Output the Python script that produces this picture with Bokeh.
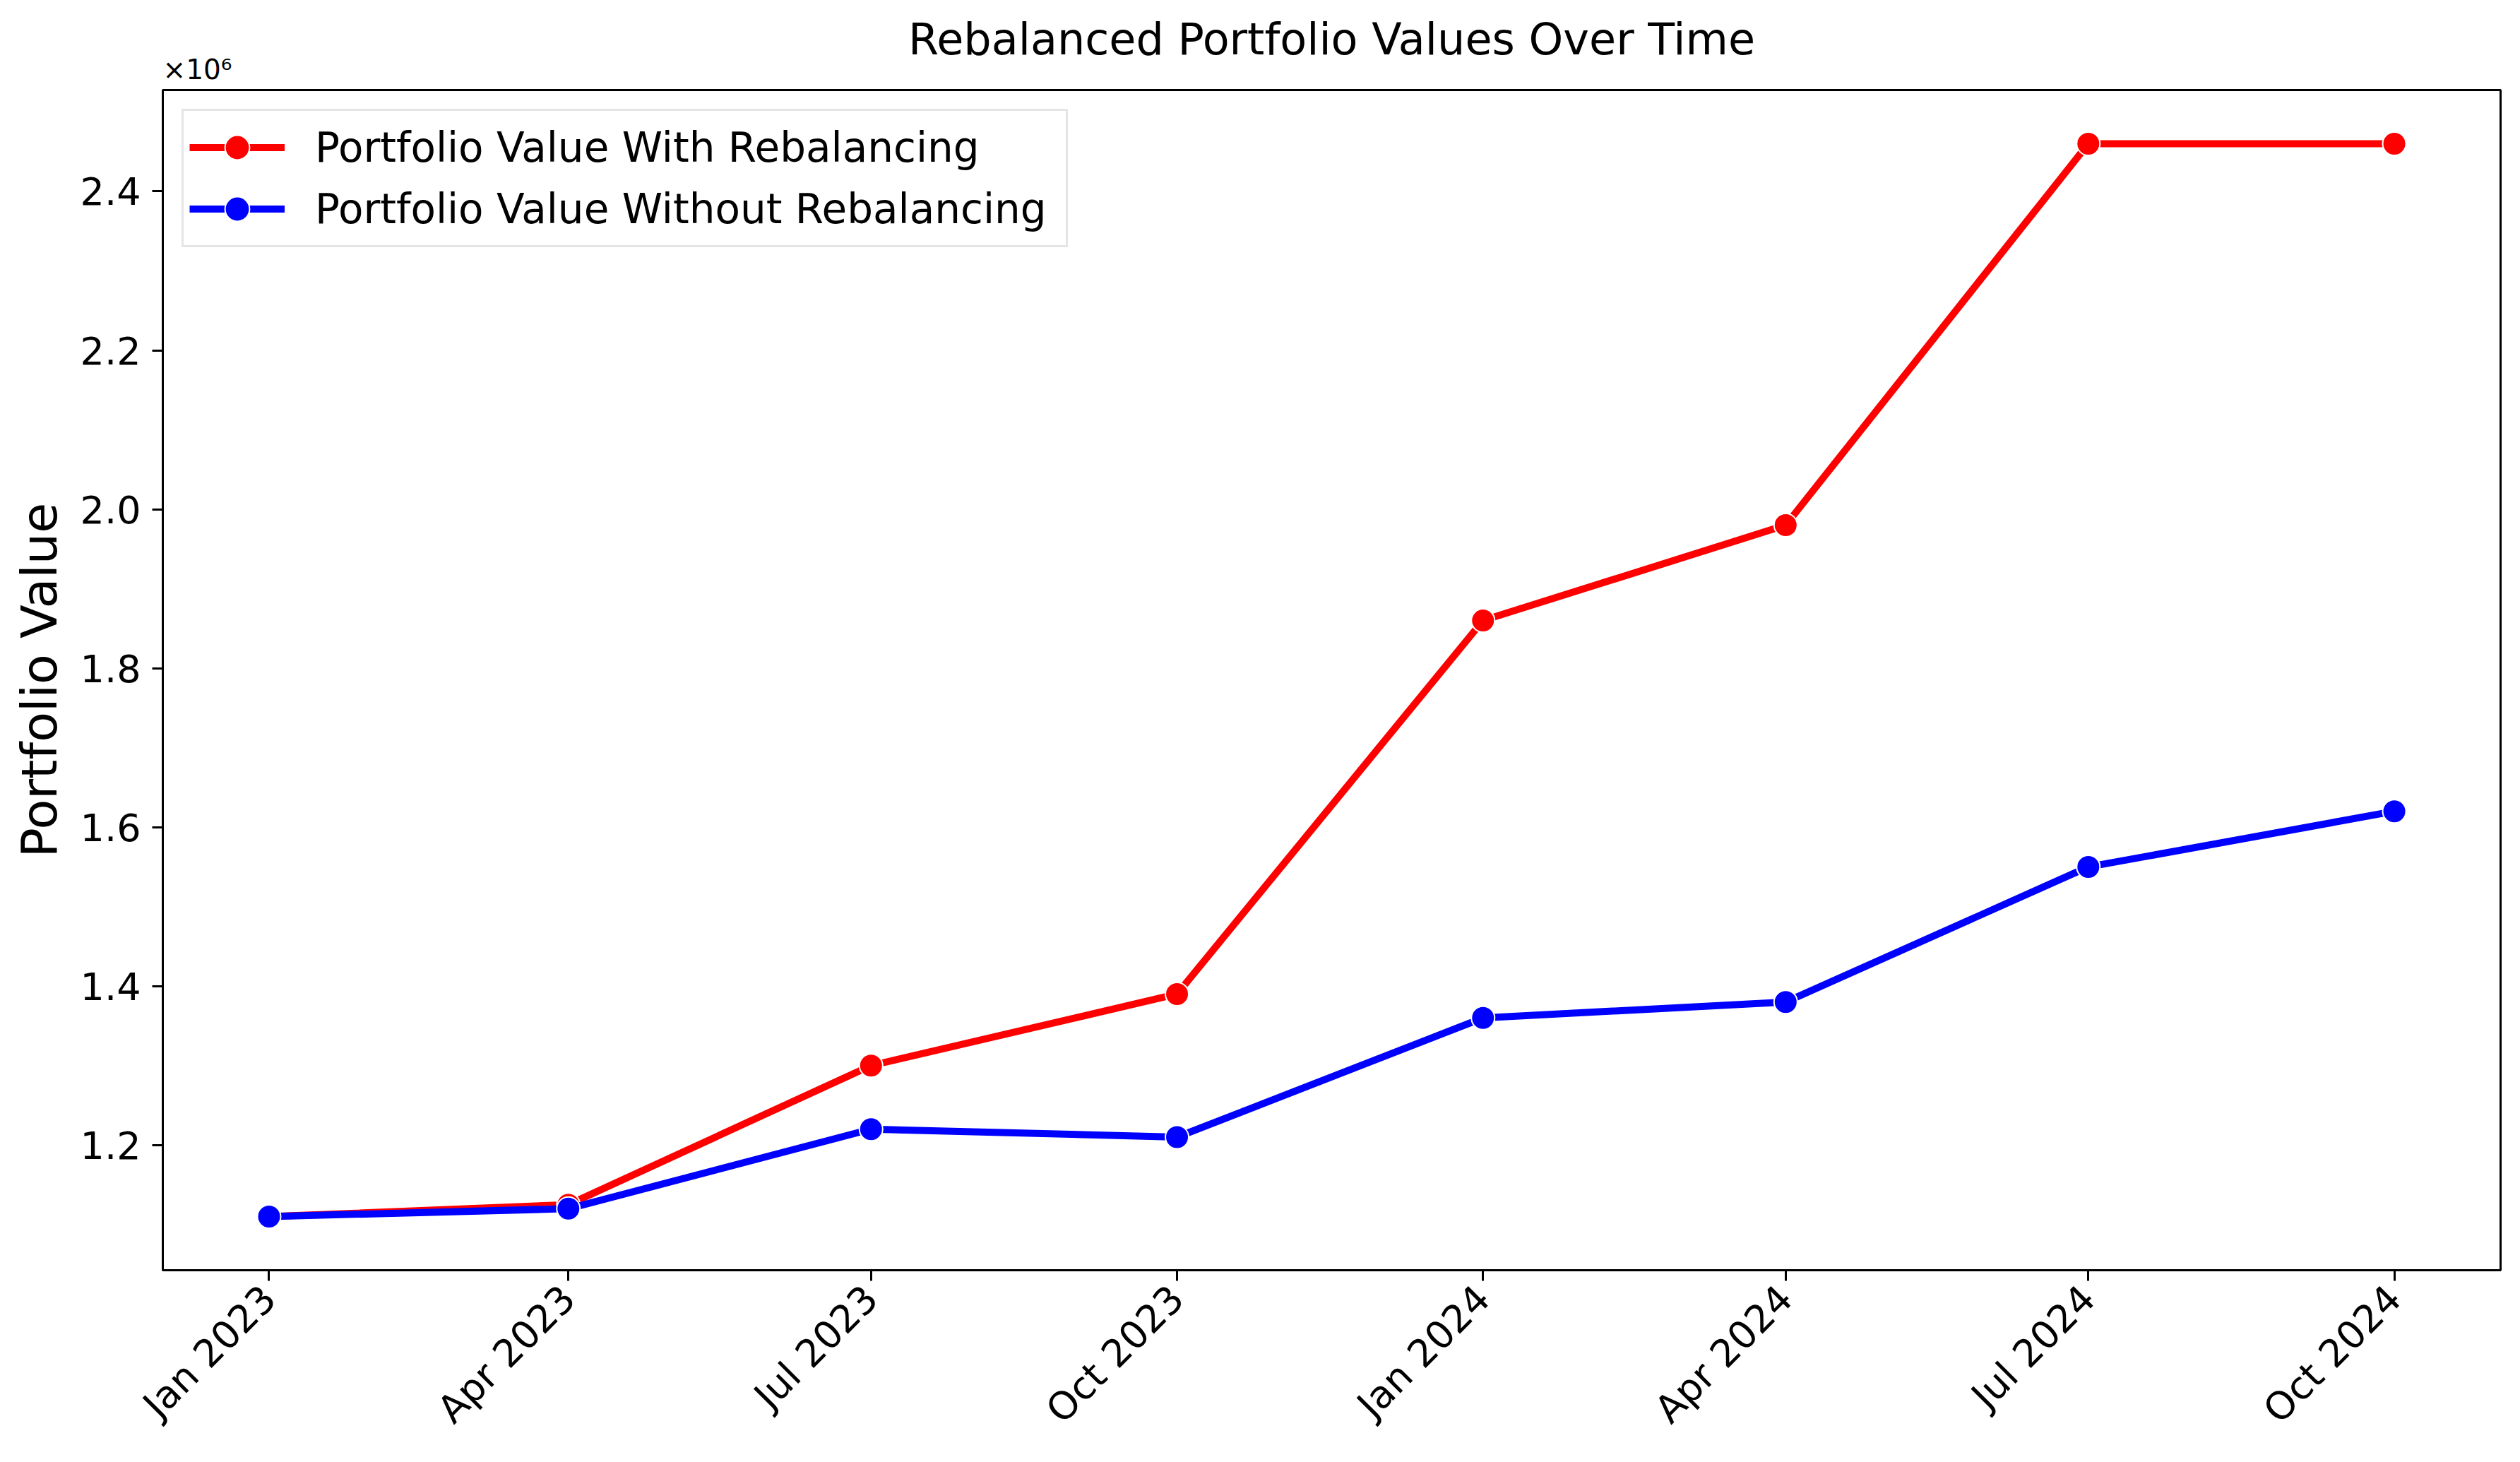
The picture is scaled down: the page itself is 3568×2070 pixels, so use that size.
import math
from datetime import datetime
from bokeh.plotting import figure
from bokeh.models import Range1d, FixedTicker, DatetimeTickFormatter, CustomJSTickFormatter, Title
from bokeh.embed import file_html
from bokeh.resources import INLINE

# ---- data ----
dates = ["2023-01-01", "2023-04-01", "2023-07-01", "2023-10-01",
         "2024-01-01", "2024-04-01", "2024-07-01", "2024-10-01"]
with_rebalancing = [1110000, 1125000, 1300000, 1390000, 1860000, 1980000, 2460000, 2460000]
without_rebalancing = [1110000, 1120000, 1220000, 1210000, 1360000, 1380000, 1550000, 1620000]
y_ticks = [1200000, 1400000, 1600000, 1800000, 2000000, 2200000, 2400000]
series_names = ["Portfolio Value With Rebalancing", "Portfolio Value Without Rebalancing"]
series_colors = ["red", "blue"]
offset_text = "×10⁶"

FONT = "DejaVu Sans"
EPOCH = datetime(1970, 1, 1)

x = [datetime.strptime(d, "%Y-%m-%d") for d in dates]
x_ms = [(d - EPOCH).total_seconds() * 1000.0 for d in x]

xpad = (x_ms[-1] - x_ms[0]) * 0.05
all_vals = with_rebalancing + without_rebalancing
ymin, ymax = min(all_vals), max(all_vals)
ypad = (ymax - ymin) * 0.05

x_start = x_ms[0] - xpad
x_end = x_ms[-1] + xpad
y_start = ymin - ypad
y_end = ymax + ypad

p = figure(width=3568, height=2070, x_axis_type="datetime",
           x_range=Range1d(x_start, x_end), y_range=Range1d(y_start, y_end),
           output_backend="svg", toolbar_location=None,
           min_border_left=230, min_border_right=28, min_border_top=127, min_border_bottom=272)

p.background_fill_color = "white"
p.border_fill_color = "white"
p.outline_line_color = "black"
p.outline_line_width = 3
p.grid.visible = False

for vals, name, col in zip([with_rebalancing, without_rebalancing], series_names, series_colors):
    p.line(x, vals, line_color=col, line_width=10, legend_label=name)
    p.scatter(x, vals, size=33, fill_color=col, line_color="white", line_width=2, legend_label=name)

# offset text (x10^6), closest to the frame
p.add_layout(Title(text=offset_text, align="left", text_font=FONT, text_font_size="39px",
                   text_font_style="normal", text_color="black", standoff=14), "above")

# main title (outermost)
p.title.text = "Rebalanced Portfolio Values Over Time"
p.title.align = "center"
p.title.text_font = FONT
p.title.text_font_size = "62px"
p.title.text_font_style = "normal"
p.title.text_color = "black"
p.title.standoff = -50

# axes
for ax in [p.xaxis[0], p.yaxis[0]]:
    ax.axis_line_color = "black"
    ax.axis_line_width = 3
    ax.major_tick_line_color = "black"
    ax.major_tick_line_width = 3
    ax.major_tick_out = 15
    ax.major_tick_in = 0
    ax.minor_tick_out = 0
    ax.minor_tick_in = 0
    ax.major_label_text_font = FONT
    ax.major_label_text_font_size = "54px"
    ax.major_label_text_color = "black"

p.xaxis.ticker = FixedTicker(ticks=x_ms)
fmt = "%b %Y"
p.xaxis.formatter = DatetimeTickFormatter(days=fmt, months=fmt, years=fmt, hours=fmt,
                                          minutes=fmt, seconds=fmt, milliseconds=fmt,
                                          minsec=fmt, hourmin=fmt)
p.xaxis.major_label_orientation = math.pi / 4
p.xaxis.major_label_standoff = 16

p.yaxis.ticker = FixedTicker(ticks=y_ticks)
p.yaxis.formatter = CustomJSTickFormatter(code="return (tick/1e6).toFixed(1);")
p.yaxis.major_label_standoff = 16
p.yaxis.axis_label = "Portfolio Value"
p.yaxis.axis_label_text_font = FONT
p.yaxis.axis_label_text_font_size = "70px"
p.yaxis.axis_label_text_font_style = "normal"
p.yaxis.axis_label_text_color = "black"
p.yaxis.axis_label_standoff = 14

# legend
lg = p.legend[0]
lg.location = "top_left"
lg.margin = 27
lg.padding = 8
lg.spacing = 0
lg.glyph_height = 87
lg.glyph_width = 135
lg.label_standoff = 43
lg.label_width = 1055
lg.label_text_font = FONT
lg.label_text_font_size = "58px"
lg.label_text_color = "black"
lg.border_line_color = "#cccccc"
lg.border_line_width = 3
lg.background_fill_color = "white"
lg.background_fill_alpha = 0.8

open("out.html", "w").write(file_html(p, INLINE))
